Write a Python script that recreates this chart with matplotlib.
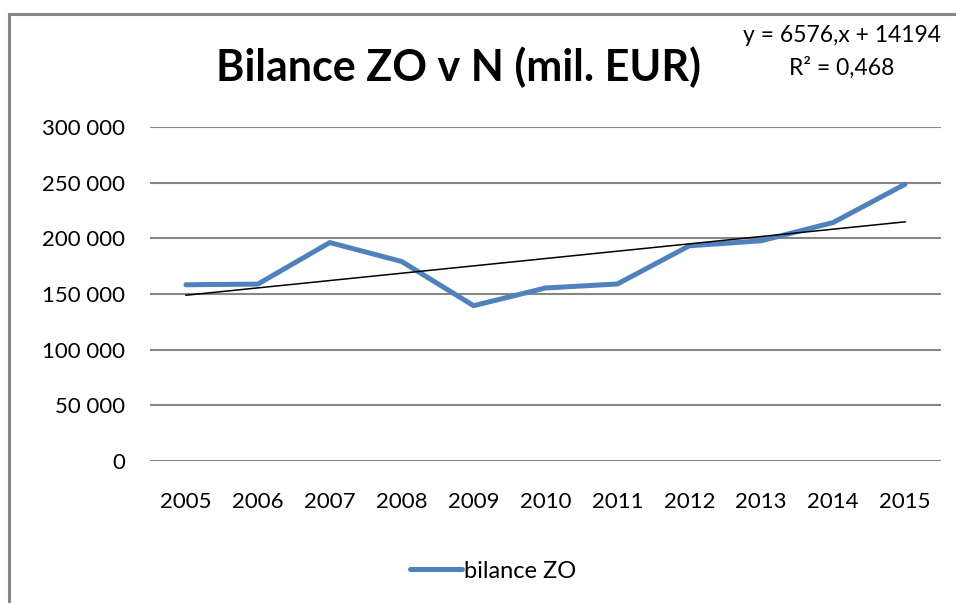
import matplotlib
matplotlib.use("Agg")
import matplotlib.pyplot as plt
import numpy as np
from matplotlib.lines import Line2D

plt.rcParams["font.family"] = ["Lato", "DejaVu Sans"]

years = ["2005", "2006", "2007", "2008", "2009", "2010",
         "2011", "2012", "2013", "2014", "2015"]
bilance = [158300, 158900, 196200, 179200, 139500, 155400,
           159000, 193300, 197800, 214200, 248600]
yticks = [0, 50000, 100000, 150000, 200000, 250000, 300000]
ytick_labels = ["0", "50 000", "100 000", "150 000", "200 000", "250 000", "300 000"]

W, H = 956, 603
fig = plt.figure(figsize=(W / 100, H / 100), dpi=100)

# plot area in pixels: x 150..941, y 127..461
ax = fig.add_axes([150 / W, 1 - 461 / H, (941 - 150) / W, (461 - 127) / H])

x = np.arange(len(years))
ax.plot(x, bilance, color="#4F81BD", lw=3.6, solid_capstyle="round",
        solid_joinstyle="round", label="bilance ZO", zorder=3)

# linear trend (Excel style: x = 1..n)
xn = x + 1
k, q = np.polyfit(xn, bilance, 1)
ax.plot(x, k * xn + q, color="black", lw=1.1, zorder=4)

ax.set_xlim(-0.5, len(years) - 0.5)
ax.set_ylim(0, 300000)
ax.set_yticks(yticks)
ax.set_yticklabels(ytick_labels)
ax.set_xticks(x)
ax.set_xticklabels(years)
ax.tick_params(axis="both", length=0, labelsize=16, colors="black")
ax.tick_params(axis="y", pad=18)
ax.tick_params(axis="x", pad=22)
ax.grid(axis="y", color="#868686", lw=1.5)
ax.set_axisbelow(True)
for s in ax.spines.values():
    s.set_visible(False)

fig.text(458 / W, 1 - 67 / H, "Bilance ZO v N (mil. EUR)", fontsize=31,
         fontweight="bold", ha="center", va="center")
fig.text(941 / W, 1 - 36 / H, "y = 6576,x + 14194", fontsize=16.5,
         ha="right", va="center")
fig.text(894 / W, 1 - 68 / H, "R² = 0,468", fontsize=16.5,
         ha="right", va="center")

leg = fig.legend(loc="center", bbox_to_anchor=(493 / W, 1 - 571 / H),
                 frameon=False, fontsize=17, handlelength=2.2,
                 handletextpad=0.1)

# outer chart frame (cut off at right and bottom)
fig.add_artist(Line2D([9 / W, 9 / W], [0, 1 - 14 / H], color="#868686", lw=2.2))
fig.add_artist(Line2D([9 / W, 1], [1 - 14 / H, 1 - 14 / H], color="#868686", lw=2.2))

fig.savefig("out.png", dpi=100)
